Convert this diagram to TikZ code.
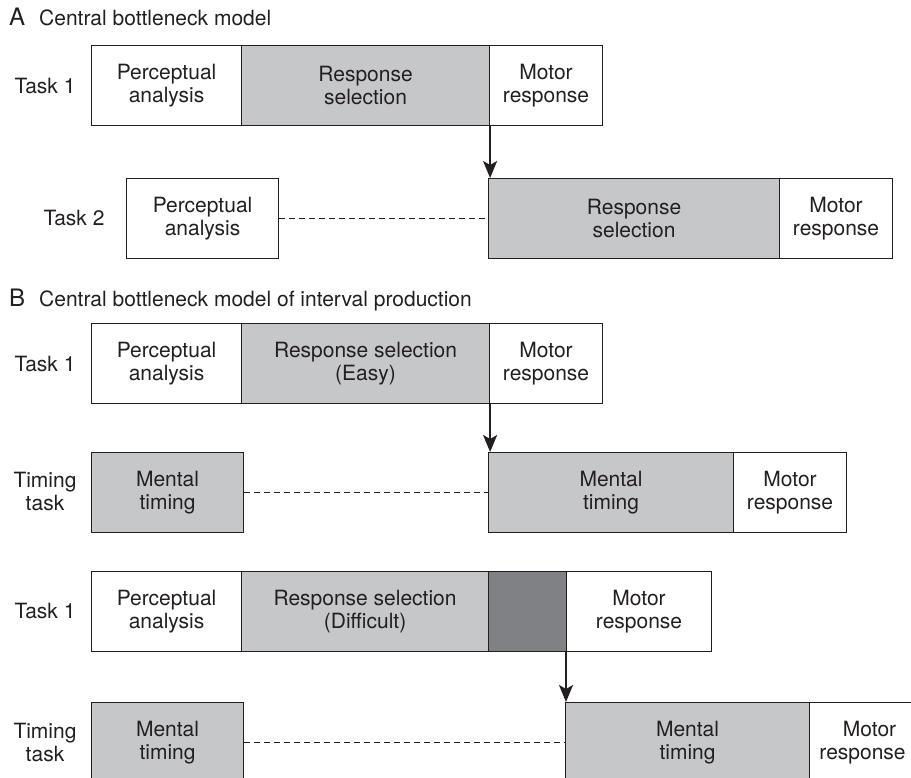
\documentclass[tikz,border=0pt]{standalone}
\usepackage{fontspec}
\setmainfont{TeX Gyre Heros}
\usetikzlibrary{arrows.meta}
\definecolor{lg}{HTML}{C6C7C9}
\definecolor{dg}{HTML}{808185}
\definecolor{ink}{HTML}{231F20}
\begin{document}
\begin{tikzpicture}[x=1pt,y=-1pt,
  box/.style={draw=ink, line width=1.1pt, anchor=north west, inner sep=0pt, align=center,
              minimum height=80pt, font=\fontsize{21}{23}\selectfont, text=ink},
  wbox/.style={box, fill=white},
  gbox/.style={box, fill=lg},
  dbox/.style={box, fill=dg},
  lab/.style={align=center, font=\fontsize{21}{23}\selectfont, text=ink, inner sep=0pt},
  ttl/.style={anchor=base west, font=\fontsize{21}{23}\selectfont, text=ink, inner sep=0pt},
  letter/.style={anchor=base west, font=\fontsize{24}{26}\selectfont, text=ink, inner sep=0pt},
  dashline/.style={draw=ink, line width=0.8pt, dash pattern=on 6pt off 4pt},
  arr/.style={draw=ink, line width=1.8pt, -{Stealth[length=17pt,width=14pt,inset=4pt]}}
]
\useasboundingbox (0,0) rectangle (911,778);
\clip (0,0) rectangle (911,778);

% ---------- A ----------
\node[letter] (tA) at (9,26) {A};
\node[ttl] (tAt) at (39,26) {Central bottleneck model};

\node[lab] (lA1) at (45,86) {Task 1};
\node[wbox, minimum width=150pt] (a1pa) at (91,45) {Perceptual\\analysis};
\node[gbox, minimum width=248pt] (a1rs) at (241,45) {Response\\selection};
\node[wbox, minimum width=113pt] (a1mr) at (489,45) {Motor\\response};

\node[lab] (lA2) at (74,218) {Task 2};
\node[wbox, minimum width=152pt] (a2pa) at (126,178) {Perceptual\\analysis};
\node[gbox, minimum width=291pt] (a2rs) at (488,178) {Response\\selection};
\node[wbox, minimum width=113pt] (a2mr) at (779,178) {Motor\\response};
\draw[dashline] (a2pa.east) -- (a2rs.west);
\draw[arr] (a1rs.south east) -- (a1rs.south east |- a2rs.north);

% ---------- B ----------
\node[letter] (tB) at (9,306) {B};
\node[ttl] (tBt) at (39,306) {Central bottleneck model of interval production};

\node[lab] (lB1) at (45,364) {Task 1};
\node[wbox, minimum width=150pt] (b1pa) at (91,323) {Perceptual\\analysis};
\node[gbox, minimum width=248pt] (b1rs) at (241,323) {Response selection\\(Easy)};
\node[wbox, minimum width=113pt] (b1mr) at (489,323) {Motor\\response};

\node[lab] (lB2) at (45,492) {Timing\\task};
\node[gbox, minimum width=152pt] (b2mt) at (91,452) {Mental\\timing};
\node[gbox, minimum width=245pt] (b2mt2) at (488,452) {Mental\\timing};
\node[wbox, minimum width=113pt] (b2mr) at (733,452) {Motor\\response};
\draw[dashline] (b2mt.east) -- (b2mt2.west);
\draw[arr] (b1rs.south east) -- (b1rs.south east |- b2mt2.north);

\node[lab] (lB3) at (45,611) {Task 1};
\node[wbox, minimum width=150pt] (b3pa) at (91,571) {Perceptual\\analysis};
\node[gbox, minimum width=247pt] (b3rs) at (241,571) {Response selection\\(Difficult)};
\node[dbox, minimum width=78pt] (b3dk) at (488,571) {};
\node[wbox, minimum width=145pt] (b3mr) at (566,571) {Motor\\response};

\node[lab] (lB4) at (45,742) {Timing\\task};
\node[gbox, minimum width=152pt] (b4mt) at (91,702) {Mental\\timing};
\node[gbox, minimum width=244pt] (b4mt2) at (565,702) {Mental\\timing};
\node[wbox, minimum width=120pt, text width=116pt] (b4mr) at (809,702) {Motor\\response\hspace*{14pt}};
\draw[dashline] (b4mt.east) -- (b4mt2.west);
\draw[arr] (b3mr.south west) -- (b3mr.south west |- b4mt2.north);
\end{tikzpicture}
\end{document}
